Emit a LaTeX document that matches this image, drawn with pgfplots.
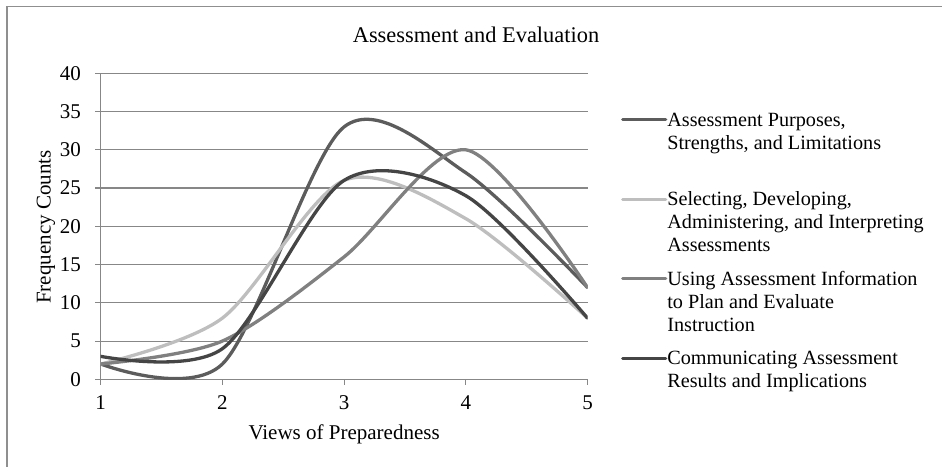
\documentclass[border=0pt]{standalone}
\usepackage{fontspec}
\setmainfont{Liberation Serif}
\usepackage{pgfplots}
\pgfplotsset{compat=1.18}
\definecolor{sA}{HTML}{5C5C5C}
\definecolor{sB}{HTML}{BEBEBE}
\definecolor{sC}{HTML}{808080}
\definecolor{sD}{HTML}{454545}
\definecolor{gridc}{HTML}{878787}
\definecolor{framec}{HTML}{8F8F8F}
\newcommand{\cf}{\fontsize{21bp}{23bp}\selectfont}
\newcommand{\lf}{\fontsize{20.2bp}{23bp}\selectfont}
\newcommand{\tf}{\fontsize{22.4bp}{25bp}\selectfont}
\begin{document}
\begin{tikzpicture}
\path[use as bounding box] (-100.7bp,-87.7bp) rectangle (841.3bp,379.3bp);
\draw[framec, line width=1.3bp] (-93.7bp,-87.7bp) -- (-93.7bp,372.8bp) -- (841.3bp,372.8bp);
\begin{axis}[
  at={(0,0)}, anchor=south west,
  scale only axis, width=486.8bp, height=306bp,
  xmin=1, xmax=5, ymin=0, ymax=40,
  xtick={1,2,3,4,5}, ytick={0,5,...,40},
  axis x line*=bottom, axis y line*=left,
  axis line style={gridc, line width=1.1bp},
  ymajorgrids, grid style={gridc, line width=1.1bp},
  tick align=outside, major tick length=5.5bp,
  major tick style={gridc, line width=1.1bp},
  /pgf/number format/assume math mode=true,
  ticklabel style={font=\cf},
  xticklabel style={anchor=base, inner sep=0pt, yshift=-25bp},
  yticklabel style={anchor=east, inner sep=0pt, xshift=-14bp},
  title={Assessment and Evaluation},
  title style={at={(axis description cs:0.771,1.08)}, anchor=base, font=\tf},
  xlabel={Views of Preparedness},
  xlabel style={at={(axis description cs:0.5,-0.1951)}, anchor=base, font=\cf},
  ylabel={Frequency Counts},
  ylabel style={at={(axis description cs:-0.1124,0.4977)}, anchor=center, rotate=0, font=\cf},
  legend cell align=left,
  legend style={at={(axis description cs:1.0689,0.880)}, anchor=north west,
    draw=none, fill=none, inner sep=0pt, outer sep=0pt,
    row sep=16bp, column sep=0bp,
    cells={anchor=base west}, nodes={inner sep=0pt}, font=\lf},
  legend image code/.code={\draw[#1, line cap=round] (0bp,52.5bp) -- (43bp,52.5bp);},
  every axis plot/.append style={line width=3.3bp, smooth, tension=0.5, line cap=round, line join=round},
]
\addplot[sA] coordinates {(1,2) (2,2) (3,33) (4,27) (5,12)};
\addlegendentry{\parbox[b]{270bp}{\strut Assessment Purposes,\\\strut Strengths, and Limitations\\\strut}}
\addplot[sB] coordinates {(1,2) (2,8) (3,26) (4,21) (5,8)};
\addlegendentry{\parbox[b]{270bp}{\strut Selecting, Developing,\\\strut Administering, and Interpreting\\\strut Assessments}}
\addplot[sC] coordinates {(1,2) (2,5) (3,16) (4,30) (5,12)};
\addlegendentry{\parbox[b]{270bp}{\strut Using Assessment Information\\\strut to Plan and Evaluate\\\strut Instruction}}
\addplot[sD] coordinates {(1,3) (2,4) (3,26) (4,24) (5,8)};
\addlegendentry{\parbox[b]{270bp}{\strut Communicating Assessment\\\strut Results and Implications\\\strut}}
\end{axis}
\end{tikzpicture}
\end{document}
